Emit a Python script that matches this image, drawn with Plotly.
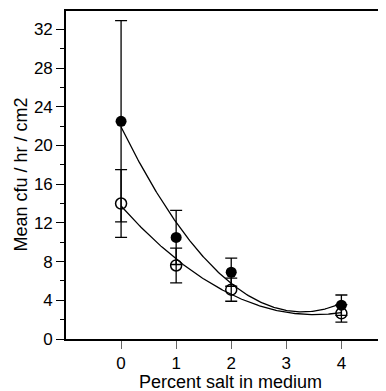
import numpy as np
import plotly.graph_objects as go

salt = [0, 1, 2, 4]
filled_mean = [22.5, 10.5, 6.9, 3.5]
filled_err = [10.4, 2.8, 1.45, 1.05]
open_mean = [14.0, 7.6, 5.1, 2.65]
open_err = [3.5, 1.8, 1.2, 0.9]

x_ticks = [0, 1, 2, 3, 4]
y_ticks = [0, 4, 8, 12, 16, 20, 24, 28, 32]

xfit = np.linspace(0, 4, 200)
cf = np.polyfit(salt, filled_mean, 2)
co = np.polyfit(salt, open_mean, 2)

fig = go.Figure()
fig.add_trace(go.Scatter(x=xfit, y=np.polyval(cf, xfit), mode="lines",
                         line=dict(color="black", width=1.3), showlegend=False, hoverinfo="skip"))
fig.add_trace(go.Scatter(x=xfit, y=np.polyval(co, xfit), mode="lines",
                         line=dict(color="black", width=1.3), showlegend=False, hoverinfo="skip"))
fig.add_trace(go.Scatter(x=salt, y=open_mean, mode="markers",
                         marker=dict(symbol="circle-open", size=11, color="black", line=dict(width=1.5)),
                         error_y=dict(type="data", array=open_err, color="black", thickness=1.3, width=6),
                         showlegend=False))
fig.add_trace(go.Scatter(x=salt, y=filled_mean, mode="markers",
                         marker=dict(symbol="circle", size=11, color="black"),
                         error_y=dict(type="data", array=filled_err, color="black", thickness=1.3, width=6),
                         showlegend=False))

# page body has an 8px default margin; figure is sized/offset to compensate
OFF = 8
L, T, B, R = 66 - OFF, 11 - OFF, 339 - OFF, 386 - OFF
W, H = 386 - OFF, 391 - OFF
PW, PH = R - L, B - T

fam = "Liberation Sans, Arial, sans-serif"
tickfont = dict(family=fam, size=17, color="black")
fig.update_layout(
    width=W, height=H,
    margin=dict(l=L, r=W - R, t=T, b=H - B),
    plot_bgcolor="white", paper_bgcolor="white",
    font=dict(family=fam, size=16, color="black"),
    xaxis=dict(range=[-1, 4.81], tickvals=x_ticks, ticks="outside", ticklen=8, tickcolor="#666",
               tickwidth=1, showline=True, linecolor="black", linewidth=1.6, mirror=True,
               showgrid=False, zeroline=False, automargin=False, tickfont=tickfont),
    yaxis=dict(range=[0, 33.9], tickvals=y_ticks, ticks="outside", ticklen=8, tickcolor="black",
               tickwidth=1, showline=True, linecolor="black", linewidth=1.6,
               showgrid=False, zeroline=False, automargin=False, tickfont=tickfont,
               minor=dict(tickvals=[2, 6, 10, 14, 18, 22, 26, 30], ticks="outside", ticklen=4,
                          tickcolor="black", tickwidth=1, showgrid=False)),
    annotations=[
        dict(text="Percent salt in medium", xref="paper", yref="paper",
             x=(230 - 66) / PW, y=(339 - 382) / PH, xanchor="center", yanchor="middle",
             showarrow=False, font=dict(family=fam, size=18, color="black")),
        dict(text="Mean cfu / hr / cm2", xref="paper", yref="paper", textangle=-90,
             x=(20.5 - 66) / PW, y=(339 - 175) / PH, xanchor="center", yanchor="middle",
             showarrow=False, font=dict(family=fam, size=18, color="black")),
    ],
)
fig.write_html("out.html")
